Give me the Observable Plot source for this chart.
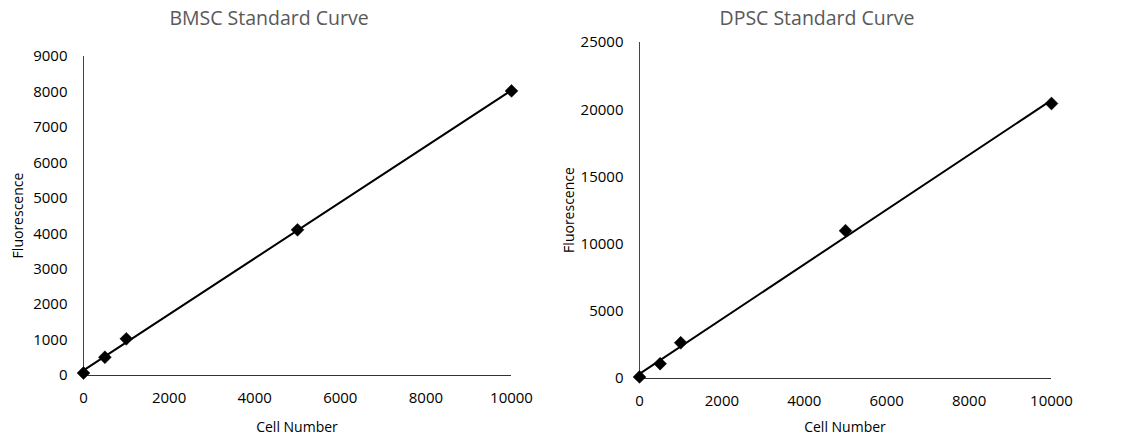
<!DOCTYPE html>
<html>
<head>
<meta charset="utf-8">
<script src="https://cdn.jsdelivr.net/npm/d3@7"></script>
<script src="https://cdn.jsdelivr.net/npm/@observablehq/plot@0.6"></script>
<style>
  body { margin: 0; background: #fff; font-family: "Open Sans", sans-serif; }
  #wrap { position: relative; width: 1139px; height: 439px; overflow: hidden; }
  .panel { position: absolute; top: 0; }
  .title { position: absolute; top: 4px; font-size: 19.5px; color: #595959; text-align: center; white-space: nowrap; transform: translateX(-50%); }
</style>
</head>
<body>
<div id="wrap"></div>
<script>
const cellNumber = [0, 500, 1000, 5000, 10000];
const bmscFluorescence = [70, 515, 1035, 4110, 8030];
const dpscFluorescence = [120, 1100, 2660, 11000, 20460];
const xTicks = [0, 2000, 4000, 6000, 8000, 10000];
const bmscYTicks = [0, 1000, 2000, 3000, 4000, 5000, 6000, 7000, 8000, 9000];
const dpscYTicks = [0, 5000, 10000, 15000, 20000, 25000];
const titles = ["BMSC Standard Curve", "DPSC Standard Curve"];

const wrap = document.getElementById("wrap");

function panel({values, yTicks, yMax, left, width, mL, mR, mT, mB, title, titleX, yLabelX}) {
  const data = cellNumber.map((x, i) => ({x, y: values[i]}));
  const chart = Plot.plot({
    width, height: 439,
    marginLeft: mL, marginRight: mR, marginTop: mT, marginBottom: mB,
    style: {fontFamily: "'Open Sans', sans-serif", fontSize: "15px", color: "#000", background: "transparent", overflow: "visible"},
    x: {domain: [0, 10000], label: null},
    y: {domain: [0, yMax], label: null},
    marks: [
      Plot.axisX({ticks: xTicks, tickFormat: d => String(d), tickSize: 0, tickPadding: 17, label: null, fontSize: 15, fill: "#000"}),
      Plot.axisY({ticks: yTicks, tickFormat: d => String(d), tickSize: 0, tickPadding: 16, label: null, fontSize: 15, fill: "#000"}),
      Plot.ruleY([0], {stroke: "#333", strokeWidth: 1}),
      Plot.ruleX([0], {stroke: "#444", strokeWidth: 1}),
      Plot.linearRegressionY(data, {x: "x", y: "y", ci: 0, stroke: "#000", strokeWidth: 2}),
      Plot.dot(data, {x: "x", y: "y", symbol: "diamond2", r: 5.8, fill: "#000", stroke: "#000", strokeWidth: 0.5})
    ]
  });
  const svg = d3.select(chart);
  svg.append("text")
    .attr("x", (mL + width - mR) / 2).attr("y", 432)
    .attr("text-anchor", "middle").attr("font-size", 14).attr("font-family", "'Open Sans', sans-serif")
    .attr("fill", "#000").text("Cell Number");
  svg.append("text")
    .attr("transform", `translate(${yLabelX},${(mT + 439 - mB) / 2}) rotate(-90)`)
    .attr("text-anchor", "middle").attr("dy", "0.35em").attr("font-size", 14).attr("font-family", "'Open Sans', sans-serif")
    .attr("fill", "#000").text("Fluorescence");
  const div = document.createElement("div");
  div.className = "panel";
  div.style.left = left + "px";
  div.style.width = width + "px";
  div.appendChild(chart);
  wrap.appendChild(div);
  const t = document.createElement("div");
  t.className = "title";
  t.style.left = titleX + "px";
  t.textContent = title;
  wrap.appendChild(t);
}

panel({values: bmscFluorescence, yTicks: bmscYTicks, yMax: 9000, left: 0, width: 560,
  mL: 83, mR: 49, mT: 56, mB: 64, title: titles[0], titleX: 269, yLabelX: 18});
panel({values: dpscFluorescence, yTicks: dpscYTicks, yMax: 25000, left: 560, width: 579,
  mL: 79, mR: 88, mT: 42, mB: 61, title: titles[1], titleX: 817, yLabelX: 9});
</script>
</body>
</html>
